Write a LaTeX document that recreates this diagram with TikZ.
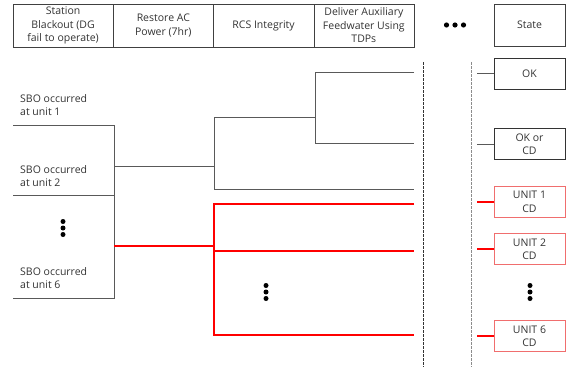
\documentclass[tikz,border=0pt]{standalone}
\usepackage{fontspec}
\setmainfont{Open Sans}
\usepackage{xcolor}
\usepackage{tikz}
\usetikzlibrary{positioning}

\definecolor{treegray}{gray}{0.35}
\definecolor{cdred}{RGB}{240,110,110}
\definecolor{txtgray}{gray}{0.2}

\begin{document}
\begin{tikzpicture}[
    x=1pt, y=-1pt,
    node distance=0pt,
    font=\fontsize{10.5}{13.5}\selectfont,
    % Styles
    header/.style={rectangle, draw=black!75, text=txtgray, minimum width=100.25pt, minimum height=43pt, align=center, inner sep=0pt, outer sep=0pt},
    statebox/.style={rectangle, draw=black!80, text=txtgray, minimum width=71pt, minimum height=31pt, align=center, inner sep=0pt, outer sep=0pt},
    cdbox/.style={statebox, draw=cdred},
    sbolabel/.style={anchor=north west, align=left, inner sep=0pt, text=txtgray},
    branch/.style={draw=treegray, line width=0.8pt},
    cdbranch/.style={draw=red, line width=2pt},
    sepline/.style={dash pattern=on 2.5pt off 1.5pt, line width=0.6pt}
]
\useasboundingbox (0,0) rectangle (568,367);

% --- Event headings (Top) ---
\node[header] (sbo) at (63.1,25.5) {Station\\Blackout (DG\\fail to operate)};
\node[header, right=of sbo] (acpower) {Restore AC\\Power (7hr)};
\node[header, right=of acpower] (rcs) {RCS Integrity};
\node[header, right=of rcs] (afw) {Deliver Auxiliary\\Feedwater Using\\TDPs};
\node[header, minimum width=71pt, minimum height=42pt] (state) at (529.5,25) {State};
\foreach \dx in {-8.5,0,8.5}
    \fill (455+\dx,25) circle (2.6pt);

% --- Dashed separators ---
\coordinate (sepatop) at (423,62);
\coordinate (sepabot) at (423,367);
\coordinate (sepbtop) at (471,62);
\coordinate (sepbbot) at (471,367);
\draw[sepline, black!80] (sepatop) -- (sepabot);
\draw[sepline, black!45] (sepbtop) -- (sepbbot);

% --- End states (Right) ---
\node[statebox] (ok) at (529.5,73.5) {OK};
\node[statebox] (okcd) at (529.5,144) {OK or\\CD};
\node[cdbox] (unitonecd) at (529.5,202) {UNIT 1\\CD};
\node[cdbox] (unittwocd) at (529.5,249) {UNIT 2\\CD};
\node[cdbox] (unitsixcd) at (529.5,336) {UNIT 6\\CD};
\foreach \dy in {-6.5,0,6.5}
    \fill (530,292+\dy) circle (2.5pt);

\draw[branch] (ok.west) -- ([xshift=6pt]sepbtop |- ok.west);
\draw[branch] (okcd.west) -- ([xshift=6pt]sepbtop |- okcd.west);
\draw[cdbranch] (unitonecd.west) -- ([xshift=6pt]sepbtop |- unitonecd.west);
\draw[cdbranch] (unittwocd.west) -- ([xshift=6pt]sepbtop |- unittwocd.west);
\draw[cdbranch] (unitsixcd.west) -- ([xshift=6pt]sepbtop |- unitsixcd.west);

% --- Initiating units (Left) ---
\node[sbolabel] (unitone) at (20,94) {SBO occurred\\at unit 1};
\node[sbolabel] (unittwo) at (20,165) {SBO occurred\\at unit 2};
\node[sbolabel] (unitsix) at (20,267) {SBO occurred\\at unit 6};
\foreach \dy in {-6.5,0,6.5}
    \fill (63,228+\dy) circle (2.5pt);

\coordinate (lineone) at (13,125);
\coordinate (linetwo) at (13,195);
\coordinate (linesix) at (13,298);
\coordinate (joinone) at (114,125);
\coordinate (joinsix) at (114,298);
\draw[branch] (lineone) -- (joinone) -- (joinsix) -- (linesix);
\draw[branch] (linetwo) -- (linetwo -| joinone);

% --- AC power restored ---
\coordinate (acok) at (114,166);
\coordinate (rcsup) at (214,117);
\coordinate (rcsdown) at (214,189);
\coordinate (afwup) at (315,72);
\coordinate (afwdown) at (315,143);
\coordinate (endok) at (414,72);
\coordinate (endokcd) at (414,143);
\coordinate (endleak) at (414,189);
\draw[branch] (acok) -- (acok -| rcsup);
\draw[branch] (rcsup) -- (rcsdown) -- (endleak);
\draw[branch] (rcsup) -- (rcsup -| afwup);
\draw[branch] (endok) -- (afwup) -- (afwdown) -- (endokcd);

% --- AC power not restored ---
\coordinate (acfail) at (114,246);
\coordinate (cdtop) at (214,204);
\coordinate (cdbot) at (214,335);
\coordinate (endunitone) at (414,204);
\coordinate (endunittwo) at (414,251);
\coordinate (endunitsix) at (414,335);
\draw[cdbranch] (acfail) -- (acfail -| cdtop);
\draw[cdbranch] (endunitone) -- (cdtop) -- (cdbot) -- (endunitsix);
\draw[cdbranch] (cdtop |- endunittwo) -- (endunittwo);
\foreach \dy in {-6.5,0,6.5}
    \fill (266,292+\dy) circle (2.5pt);

\end{tikzpicture}
\end{document}
